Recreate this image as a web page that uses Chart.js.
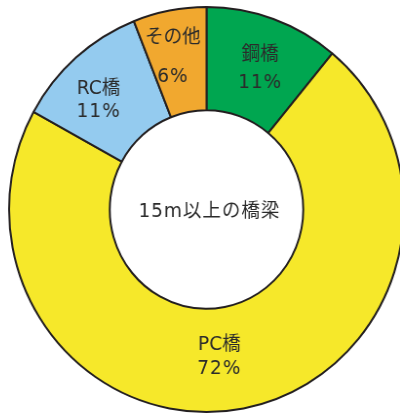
<!DOCTYPE html>
<html>
<head>
<meta charset="utf-8">
<script src="https://cdn.jsdelivr.net/npm/chart.js@4"></script>
<style>
  html, body { margin: 0; padding: 0; background: #fff; overflow: hidden; width: 400px; height: 415px; }
  #wrap { position: absolute; left: 0; top: 0; width: 413px; height: 420px;
          transform: scaleX(0.975); transform-origin: 206.5px 0; }
</style>
</head>
<body>
<div id="wrap"><canvas id="bridgeChart" width="413" height="420"></canvas></div>
<script>
// データ
const labels = ["鋼橋", "PC橋", "RC橋", "その他"];
const shares = [11, 72, 11, 6];
const centerTitle = "15m以上の橋梁";

const colors = ["#00a650", "#f6e82a", "#94cbef", "#f1a82f"];
// ラベル位置の微調整（角度[度], 半径比, 行間[px]）
const labelShift = [[1.6, 0.0, 28], [5.7, -0.02, 24], [-4, 0.03, 23], [-2, 0.03, 39]];

const FONT = "'DejaVu Sans', 'Noto Sans CJK JP', sans-serif";

const labelPlugin = {
    id: "labelPlugin",
    afterDatasetsDraw(chart) {
        const ctx = chart.ctx;
        const meta = chart.getDatasetMeta(0);
        ctx.save();
        ctx.fillStyle = "#2b2b2b";
        ctx.textAlign = "center";
        ctx.textBaseline = "middle";
        meta.data.forEach(function (arc, i) {
            const p = arc.getProps(["x", "y", "startAngle", "endAngle", "innerRadius", "outerRadius"], true);
            const mid = (p.startAngle + p.endAngle) / 2 + labelShift[i][0] * Math.PI / 180;
            const r = (p.innerRadius + p.outerRadius) / 2 * (1 + labelShift[i][1]);
            const x = p.x + Math.cos(mid) * r;
            const y = p.y + Math.sin(mid) * r;
            const gap = labelShift[i][2] / 2;
            ctx.font = "19px " + FONT;
            ctx.letterSpacing = "0px";
            ctx.fillText(labels[i], x, y - gap);
            ctx.letterSpacing = "1px";
            ctx.fillText(shares[i] + "%", x, y + gap);
        });
        // 中央のタイトル
        const c = meta.data[0];
        ctx.font = "19px " + FONT;
        ctx.letterSpacing = "1px";
        ctx.fillText(centerTitle, c.x + 3, c.y + 3);
        ctx.restore();
    }
};

const ctx = document.getElementById("bridgeChart").getContext("2d");
const bridgeChart = new Chart(ctx, {
    type: "doughnut",
    data: {
        labels: labels,
        datasets: [{
            data: shares,
            backgroundColor: colors,
            borderColor: "#231f20",
            borderWidth: 2,
            borderAlign: "center"
        }]
    },
    options: {
        responsive: false,
        animation: false,
        cutout: "49%",
        layout: { padding: { left: 3, top: 6, right: 3, bottom: 7 } },
        plugins: {
            legend: { display: false },
            tooltip: { enabled: false }
        }
    },
    plugins: [labelPlugin]
});
</script>
</body>
</html>
